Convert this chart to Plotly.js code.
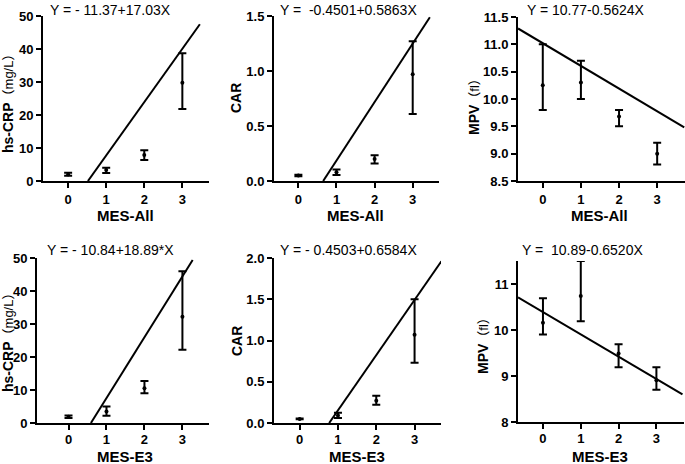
<!DOCTYPE html>
<html>
<head>
<meta charset="utf-8">
<script src="https://cdn.plot.ly/plotly-3.0.1.min.js"></script>
<style>
  body { margin: 0; background: #fff; }
  #plot { width: 685px; height: 464px; }
</style>
</head>
<body>
<div id="plot"></div>
<script>
// MES grades on the x axis
var mesX = [0, 1, 2, 3];

// MES-All
var crpAllMean = [2.0, 3.3, 7.9, 29.8];
var crpAllUp   = [2.5, 4.0, 9.3, 38.7];
var crpAllLow  = [1.6, 2.4, 6.4, 21.8];
var carAllMean = [0.05, 0.08, 0.20, 0.97];
var carAllUp   = [0.056, 0.105, 0.235, 1.27];
var carAllLow  = [0.044, 0.055, 0.16, 0.61];
var mpvAllMean = [10.25, 10.3, 9.68, 9.0];
var mpvAllUp   = [11.0, 10.7, 9.8, 9.2];
var mpvAllLow  = [9.8, 10.0, 9.5, 8.8];

// MES-E3
var crpE3Mean = [1.9, 3.5, 10.5, 32.2];
var crpE3Up   = [2.3, 5.0, 12.7, 46.0];
var crpE3Low  = [1.5, 2.2, 9.0, 22.2];
var carE3Mean = [0.05, 0.09, 0.27, 1.07];
var carE3Up   = [0.056, 0.125, 0.33, 1.50];
var carE3Low  = [0.044, 0.06, 0.22, 0.73];
var mpvE3Mean = [10.16, 10.74, 9.49, 8.91];
var mpvE3Up   = [10.69, 11.5, 9.69, 9.19];
var mpvE3Low  = [9.9, 10.19, 9.19, 8.7];

// regression lines as drawn (ends)
var fitCrpAllX = [0.52, 3.46], fitCrpAllY = [0, 47.5];
var fitCarAllX = [0.65, 3.45], fitCarAllY = [0, 1.488];
var fitMpvAllX = [-0.65, 3.71], fitMpvAllY = [11.29, 9.48];
var fitCrpE3X = [0.59, 3.27], fitCrpE3Y = [0, 49.4];
var fitCarE3X = [0.77, 3.70], fitCarE3Y = [0, 1.96];
var fitMpvE3X = [-0.66, 3.69], fitMpvE3Y = [10.71, 8.60];

var equations = [
  'Y = - 11.37+17.03X', 'Y =  -0.4501+0.5863X', 'Y = 10.77-0.5624X',
  'Y = - 10.84+18.89*X', 'Y = - 0.4503+0.6584X', 'Y =  10.89-0.6520X'
];
var crpTitle = '<b>hs-CRP</b><span style="font-size:13px">（mg/L）</span>';
var mpvTitle = '<b>MPV</b><span style="font-size:13px">（fl）</span>';
var yTitles = [crpTitle, '<b>CAR</b>', mpvTitle, crpTitle, '<b>CAR</b>', mpvTitle];
var xTitles = ['MES-All', 'MES-All', 'MES-All', 'MES-E3', 'MES-E3', 'MES-E3'];

var W = 685, H = 464;
var FONT = 'Liberation Sans, Arial, Noto Sans CJK SC, sans-serif';

// pixel boxes of each panel [left, right, top, bottom]
var boxes = [
  [43, 209, 16, 181], [274, 439, 16, 181], [518, 685, 17, 181],
  [37, 209, 258, 423], [274, 441, 258, 423], [518, 684, 261, 422]
];
var xRanges = [[-0.66, 3.7], [-0.64, 3.69], [-0.65, 3.73], [-0.83, 3.7], [-0.67, 3.69], [-0.66, 3.73]];
var yRanges = [[0, 50], [0, 1.5], [8.5, 11.5], [0, 50], [0, 2], [8, 11.5]];
var yTicks = [
  [0, 10, 20, 30, 40, 50], [0, 0.5, 1, 1.5], [8.5, 9, 9.5, 10, 10.5, 11, 11.5],
  [0, 10, 20, 30, 40, 50], [0, 0.5, 1, 1.5, 2], [8, 9, 10, 11]
];
var yFormats = ['', '.1f', '.1f', '', '.1f', ''];
// label placement in pixels
var titleLeft = [48, 278, 525, 45, 278, 520];
var titleMid = [10, 10, 10, 249.5, 249.5, 249.5];
var xTitleMid = [215.5, 215.5, 215.5, 456.5, 456.5, 456.5];
var xLabelShift = [0, 0, 0, -2, -2, -2];
var yTitleX = [8, 236, 474, 8, 237, 483];
var yTitleY = [101, 98, 104, 340, 341, 343];

var means = [crpAllMean, carAllMean, mpvAllMean, crpE3Mean, carE3Mean, mpvE3Mean];
var ups = [crpAllUp, carAllUp, mpvAllUp, crpE3Up, carE3Up, mpvE3Up];
var lows = [crpAllLow, carAllLow, mpvAllLow, crpE3Low, carE3Low, mpvE3Low];
var fitsX = [fitCrpAllX, fitCarAllX, fitMpvAllX, fitCrpE3X, fitCarE3X, fitMpvE3X];
var fitsY = [fitCrpAllY, fitCarAllY, fitMpvAllY, fitCrpE3Y, fitCarE3Y, fitMpvE3Y];

var data = [];
var layout = {
  width: W, height: H,
  margin: {l: 0, r: 0, t: 0, b: 0},
  paper_bgcolor: '#fff', plot_bgcolor: '#fff',
  showlegend: false,
  font: {family: FONT, color: '#000'},
  annotations: []
};

for (var i = 0; i < 6; i++) {
  var n = i + 1;
  var xa = 'x' + (n > 1 ? n : ''), ya = 'y' + (n > 1 ? n : '');
  var b = boxes[i];

  data.push({
    x: mesX, y: means[i], xaxis: xa, yaxis: ya,
    type: 'scatter', mode: 'markers', cliponaxis: false,
    marker: {color: '#000', size: 4},
    error_y: {
      type: 'data', symmetric: false,
      array: ups[i].map(function (u, k) { return u - means[i][k]; }),
      arrayminus: lows[i].map(function (l, k) { return means[i][k] - l; }),
      color: '#000', thickness: 2, width: 4
    }
  });
  data.push({
    x: fitsX[i], y: fitsY[i], xaxis: xa, yaxis: ya,
    type: 'scatter', mode: 'lines', cliponaxis: false,
    line: {color: '#000', width: 2}
  });

  layout['xaxis' + (n > 1 ? n : '')] = {
    domain: [b[0] / W, b[1] / W], anchor: ya,
    range: xRanges[i], tickvals: mesX,
    showgrid: false, zeroline: false,
    showline: true, linecolor: '#000', linewidth: 2,
    ticks: 'outside', ticklen: 5, tickwidth: 2, tickcolor: '#000',
    ticklabelstandoff: xLabelShift[i],
    tickfont: {size: 13, weight: 'bold', family: FONT}
  };
  layout['yaxis' + (n > 1 ? n : '')] = {
    domain: [1 - b[3] / H, 1 - b[2] / H], anchor: xa,
    range: yRanges[i], tickvals: yTicks[i], tickformat: yFormats[i],
    showgrid: false, zeroline: false,
    showline: true, linecolor: '#000', linewidth: 2,
    ticks: 'outside', ticklen: 5, tickwidth: 2, tickcolor: '#000',
    tickfont: {size: 13, weight: 'bold', family: FONT}
  };
  // regression equation above each panel
  layout.annotations.push({
    text: equations[i], xref: 'paper', yref: 'paper',
    x: titleLeft[i] / W, y: 1 - titleMid[i] / H,
    xanchor: 'left', yanchor: 'middle', showarrow: false,
    font: {size: 14, family: FONT, color: '#000'}
  });
  // x axis title, centred under the ticks
  layout.annotations.push({
    text: '<b>' + xTitles[i] + '</b>', xref: xa, yref: 'paper',
    x: 1.5, y: 1 - xTitleMid[i] / H,
    xanchor: 'center', yanchor: 'middle', showarrow: false,
    font: {size: 15, family: FONT, color: '#000'}
  });
  // y axis title
  layout.annotations.push({
    text: yTitles[i], xref: 'paper', yref: 'paper', textangle: -90,
    x: yTitleX[i] / W, y: 1 - yTitleY[i] / H,
    xanchor: 'center', yanchor: 'middle', showarrow: false,
    font: {size: 14, family: FONT, color: '#000'}
  });
}

Plotly.newPlot('plot', data, layout, {displayModeBar: false});
</script>
</body>
</html>
